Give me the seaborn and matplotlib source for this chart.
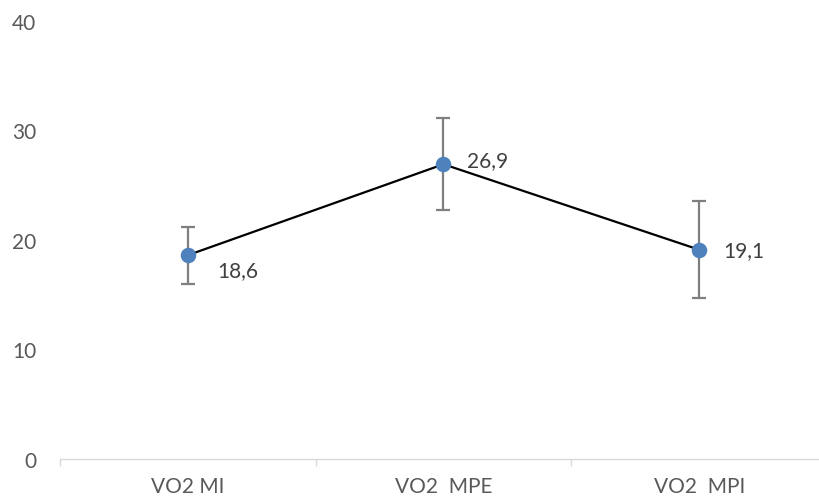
import pandas as pd
import seaborn as sns
import matplotlib.pyplot as plt

categories = ['VO2 MI', 'VO2  MPE', 'VO2  MPI']
means = [18.6, 26.9, 19.1]
errors = [2.6, 4.2, 4.4]
point_labels = ['18,6', '26,9', '19,1']
yticks = [0, 10, 20, 30, 40]

df = pd.DataFrame({'group': categories, 'vo2': means, 'err': errors})

sns.set_style('white')
plt.rcParams['font.family'] = ['Lato', 'DejaVu Sans']

fig = plt.figure(figsize=(8.2, 5.02), dpi=100)
ax = fig.add_axes([60 / 820, 42 / 502, 767 / 820, 438.3 / 502])

pos = list(range(len(categories)))
# error bars first so the line and markers sit on top
ax.errorbar(pos, df['vo2'], yerr=df['err'], fmt='none', ecolor='#7F7F7F',
            elinewidth=1.6, capsize=5, capthick=1.6, zorder=2)
sns.pointplot(data=df, x='group', y='vo2', errorbar=None, color='black',
              linewidth=1.6, markers='', ax=ax, zorder=3)
sns.scatterplot(x=pos, y=df['vo2'], color='#4F81BD', s=125, edgecolor='#4F81BD',
                linewidth=0, ax=ax, zorder=4, legend=False)

offsets = [(21, -11), (17, 3), (17, 0)]
for p, v, lab, off in zip(pos, df['vo2'], point_labels, offsets):
    ax.annotate(lab, (p, v), xytext=off, textcoords='offset points',
                ha='left', va='center', fontsize=15, color='#404040')

ax.set_xlim(-0.5, 2.5)
ax.set_ylim(0, 40)
ax.set_yticks(yticks)
ax.set_xticks(pos)
ax.set_xticklabels(categories)
ax.set_xticks([-0.5, 0.5, 1.5, 2.5], minor=True)
ax.tick_params(axis='x', which='major', length=0, pad=12, labelsize=15, labelcolor='#595959')
ax.tick_params(axis='x', which='minor', bottom=True, length=5, width=1, color='#D9D9D9', direction='out')
ax.tick_params(axis='y', length=0, pad=17, labelsize=15, labelcolor='#595959')
for s in ['top', 'right', 'left']:
    ax.spines[s].set_visible(False)
ax.spines['bottom'].set_color('#D9D9D9')
ax.spines['bottom'].set_linewidth(1)
ax.set_xlabel('')
ax.set_ylabel('')

fig.savefig('out.png', dpi=100)
